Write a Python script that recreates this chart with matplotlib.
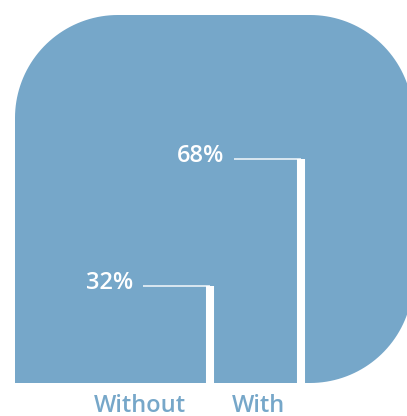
import numpy as np
import matplotlib
matplotlib.use("Agg")
import matplotlib.pyplot as plt
from matplotlib.path import Path
from matplotlib.patches import PathPatch

# data
categories = ["Without", "With"]
values = [32, 68]
value_labels = ["32%", "68%"]

blue = "#76a7c9"

fig = plt.figure(figsize=(4.07, 4.16), dpi=100)

# background shape drawn in pixel coordinates (square bottom-left corner)
bg = fig.add_axes([0, 0, 1, 1])
bg.set_xlim(0, 407)
bg.set_ylim(416, 0)
bg.axis("off")

left, top, right, bottom, r = 15, 15, 413, 383, 103


def arc(cx, cy, a0, a1, n=40):
    t = np.radians(np.linspace(a0, a1, n))
    return list(zip(cx + r * np.cos(t), cy + r * np.sin(t)))


pts = [(left, bottom)]
pts += arc(left + r, top + r, 180, 270)
pts += arc(right - r, top + r, 270, 360)
pts += arc(right - r, bottom - r, 0, 90)
pts.append((left, bottom))
bg.add_patch(PathPatch(Path(pts), facecolor=blue, edgecolor="none"))

# data axes over the shape
ax = fig.add_axes([15 / 407, 33 / 416, 398 / 407, 368 / 416])
ax.patch.set_alpha(0)
ax.set_xlim(0, 398)
ax.set_ylim(4.5, 108.8)
for s in ax.spines.values():
    s.set_visible(False)
ax.set_yticks([])

line_x = [195, 286]
label_x = [125, 243]
lead = 63

for i, v in enumerate(values):
    x = line_x[i]
    ax.plot([x, x], [4.5, v], color="white", lw=5.8, solid_capstyle="butt")
    ax.plot([x - lead - 4, x], [v, v], color="white", lw=1.2, alpha=0.85,
            solid_capstyle="butt")
    ax.text(x - lead - 14, v + 0.8, value_labels[i], color="white",
            fontsize=17, fontweight="semibold", family="Open Sans",
            ha="right", va="center")

ax.set_xticks(label_x)
ax.set_xticklabels(categories, fontsize=17, color=blue, family="Open Sans",
                   fontweight="semibold")
ax.tick_params(axis="x", length=0, pad=8)

fig.savefig("out.png", dpi=100)
